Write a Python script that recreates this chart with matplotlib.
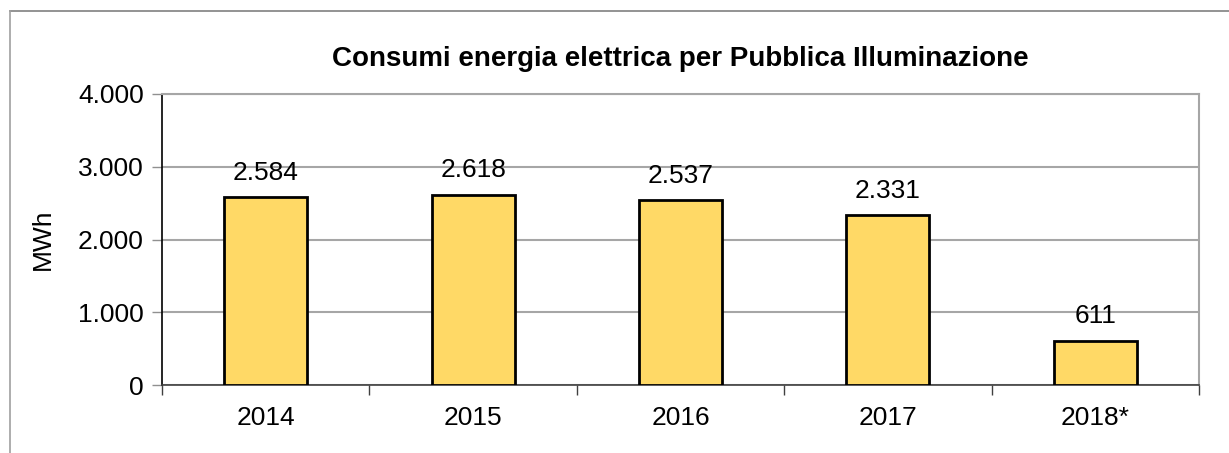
import matplotlib
matplotlib.use("Agg")
import matplotlib.pyplot as plt
from matplotlib.ticker import FixedLocator
from matplotlib.lines import Line2D

categories = ["2014", "2015", "2016", "2017", "2018*"]
values = [2584, 2618, 2537, 2331, 611]
value_labels = ["2.584", "2.618", "2.537", "2.331", "611"]
yticks = [0, 1000, 2000, 3000, 4000]
ytick_labels = ["0", "1.000", "2.000", "3.000", "4.000"]

plt.rcParams['font.family'] = ['Liberation Sans', 'DejaVu Sans']
FS = 19

fig = plt.figure(figsize=(12.29, 4.53), dpi=100)
ax = fig.add_axes([0.1318, 0.1501, 0.8438, 0.6424])

x = list(range(len(categories)))
ax.bar(x, values, width=0.40, color="#FFD966", edgecolor="black", linewidth=2, zorder=3)

for xi, v, lab in zip(x, values, value_labels):
    ax.annotate(lab, (xi, v), xytext=(0, 9), textcoords="offset points",
                ha="center", va="bottom", fontsize=FS, color="black")

ax.set_xlim(-0.5, len(categories) - 0.5)
ax.set_ylim(0, 4000)
ax.set_yticks(yticks)
ax.set_yticklabels(ytick_labels, fontsize=FS)
ax.set_xticks(x)
ax.set_xticklabels(categories, fontsize=FS)
ax.xaxis.set_minor_locator(FixedLocator([i - 0.5 for i in range(len(categories) + 1)]))
ax.tick_params(axis="x", which="major", length=0, pad=15)
ax.tick_params(axis="x", which="minor", length=7, width=1, color="#404040", direction="out")
ax.tick_params(axis="y", length=7, width=1, color="#909090", direction="out", pad=6)

ax.grid(axis="y", color="#A6A6A6", linewidth=1.5, zorder=0)
ax.set_axisbelow(True)
for s in ["top", "right"]:
    ax.spines[s].set_color("#A6A6A6")
    ax.spines[s].set_linewidth(1.5)
ax.spines["left"].set_color("black")
ax.spines["left"].set_linewidth(1.2)
ax.spines["bottom"].set_color("#404040")
ax.spines["bottom"].set_linewidth(1.2)

ax.set_ylabel("MWh", fontsize=FS, labelpad=17)
ax.set_title("Consumi energia elettrica per Pubblica Illuminazione", fontsize=20,
             fontweight="bold", pad=20)

# outer chart frame
fig.add_artist(Line2D([10/1229, 1.0], [1 - 11/453, 1 - 11/453], transform=fig.transFigure,
                      color="#808080", linewidth=1.2))
fig.add_artist(Line2D([10/1229, 10/1229], [0, 1 - 11/453], transform=fig.transFigure,
                      color="#A0A0A0", linewidth=1.2))

fig.savefig("out.png", dpi=100)
